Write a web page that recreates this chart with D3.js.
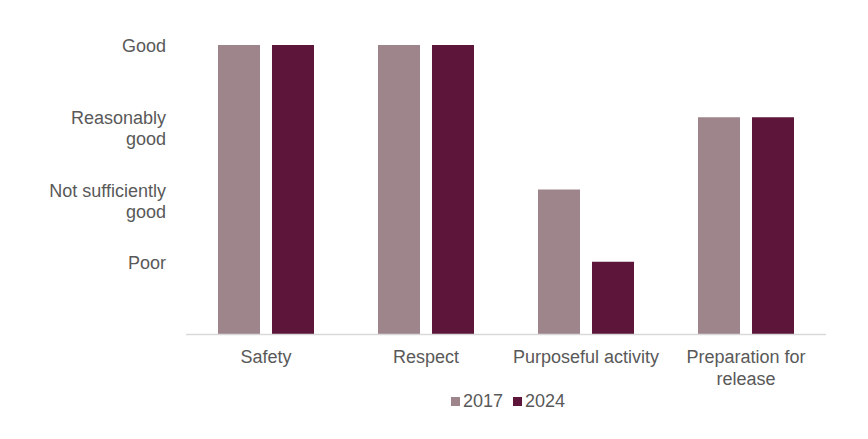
<!DOCTYPE html>
<html>
<head>
<meta charset="utf-8">
<script src="https://cdn.jsdelivr.net/npm/d3@7"></script>
<style>
  body { margin: 0; background: #fff; }
  svg text { font-family: "Liberation Sans", Arial, sans-serif; fill: #595959; }
</style>
</head>
<body>
<svg id="chart"></svg>
<script>
// data
const categories = [["Safety"], ["Respect"], ["Purposeful activity"], ["Preparation for", "release"]];
const series = ["2017", "2024"];
const values2017 = [4, 4, 2, 3];
const values2024 = [4, 4, 1, 3];
const ratingValues = [4, 3, 2, 1];
const ratingLabels = [["Good"], ["Reasonably", "good"], ["Not sufficiently", "good"], ["Poor"]];
const colors = ["#9e858c", "#5d1639"];

const width = 868, height = 439;
const margin = { top: 45, right: 42, bottom: 105, left: 186 };
const svg = d3.select("#chart").attr("width", width).attr("height", height);

const x = d3.scaleBand()
    .domain(categories.map(d => d.join(" ")))
    .range([margin.left, width - margin.right]);

const xInner = d3.scaleBand()
    .domain(series)
    .range([32, x.bandwidth() - 32])
    .paddingInner(0.222);

const y = d3.scaleLinear()
    .domain([0, 4])
    .range([height - margin.bottom, margin.top]);

const rows = categories.map((c, i) => ({ key: c.join(" "), vals: [values2017[i], values2024[i]] }));

// bars
const groups = svg.selectAll(".grp")
    .data(rows)
    .enter()
    .append("g")
    .attr("transform", d => `translate(${x(d.key)},0)`);

groups.selectAll("rect")
    .data(d => d.vals.map((v, j) => ({ s: series[j], v: v, j: j })))
    .enter()
    .append("rect")
    .attr("x", d => xInner(d.s))
    .attr("width", xInner.bandwidth())
    .attr("y", d => y(d.v))
    .attr("height", d => y(0) - y(d.v))
    .attr("fill", d => colors[d.j]);

// baseline
svg.append("line")
    .attr("x1", margin.left)
    .attr("x2", width - margin.right)
    .attr("y1", y(0) + 0.5)
    .attr("y2", y(0) + 0.5)
    .attr("stroke", "#d9d9d9")
    .attr("stroke-width", 1.5);

// y labels
ratingValues.forEach((v, i) => {
    const t = svg.append("text")
        .attr("x", 166)
        .attr("y", y(v) + 7)
        .attr("text-anchor", "end")
        .attr("font-size", 18);
    ratingLabels[i].forEach((line, k) => {
        t.append("tspan").attr("x", 166).attr("dy", k === 0 ? 0 : 21).text(line);
    });
});

// x labels
categories.forEach(c => {
    const cx = x(c.join(" ")) + x.bandwidth() / 2;
    const t = svg.append("text")
        .attr("x", cx)
        .attr("y", 363)
        .attr("text-anchor", "middle")
        .attr("font-size", 18);
    c.forEach((line, k) => {
        t.append("tspan").attr("x", cx).attr("dy", k === 0 ? 0 : 22).text(line);
    });
});

// legend
const legendX = [451, 513];
series.forEach((s, i) => {
    svg.append("rect")
        .attr("x", legendX[i])
        .attr("y", 397)
        .attr("width", 9)
        .attr("height", 9)
        .attr("fill", colors[i]);
    svg.append("text")
        .attr("x", legendX[i] + 12)
        .attr("y", 407)
        .attr("font-size", 18)
        .text(s);
});
</script>
</body>
</html>
